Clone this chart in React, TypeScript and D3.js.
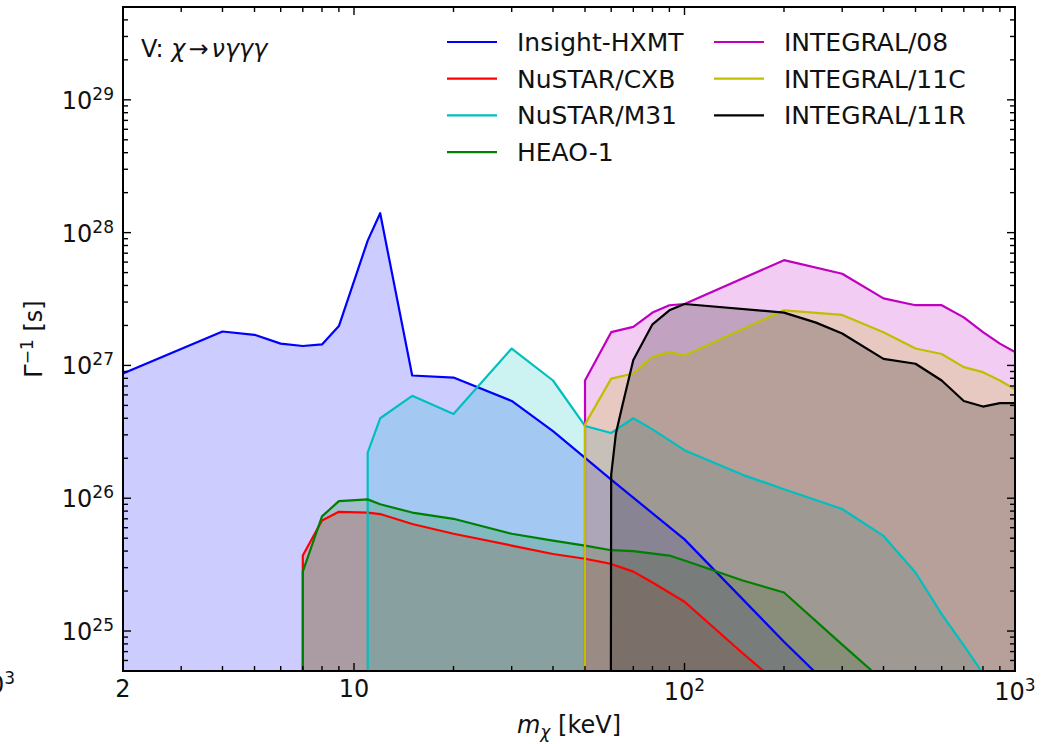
import React, { useEffect, useRef } from "react";
import * as d3 from "d3";

// masses in keV, inverse decay rates in s
const hxmtMass = [2, 4, 5, 6, 7, 8, 9, 11, 12, 15, 20, 30, 40, 60, 100, 200, 300];
const hxmtLife = [8.7e26, 1.8e27, 1.7e27, 1.46e27, 1.4e27, 1.44e27, 1.98e27, 8.7e27, 1.4e28, 8.4e26, 8.1e26, 5.4e26, 3.2e26, 1.38e26, 4.9e25, 8.3e24, 3.1e24];

const cxbMass = [7, 7, 8, 9, 11, 12, 15, 20, 30, 40, 50, 60, 70, 80, 100, 150, 200];
const cxbLife = [1e20, 3.7e25, 6.8e25, 7.9e25, 7.8e25, 7.6e25, 6.4e25, 5.4e25, 4.4e25, 3.8e25, 3.5e25, 3.2e25, 2.8e25, 2.32e25, 1.66e25, 6.8e24, 3.7e24];

const m31Mass = [11, 11, 12, 15, 20, 30, 40, 50, 60, 70, 80, 100, 150, 200, 300, 400, 500, 600, 700, 800];
const m31Life = [1e20, 2.2e26, 4e26, 5.9e26, 4.3e26, 1.34e27, 7.7e26, 3.5e26, 3.1e26, 4e26, 3.3e26, 2.3e26, 1.5e26, 1.17e26, 8.3e25, 5.2e25, 2.76e25, 1.34e25, 7.8e24, 4.8e24];

const heaoMass = [7, 7, 8, 9, 11, 12, 15, 20, 30, 40, 50, 60, 70, 90, 100, 150, 200, 300, 400];
const heaoLife = [1e20, 2.8e25, 7.3e25, 9.5e25, 9.8e25, 9e25, 7.8e25, 7e25, 5.4e25, 4.8e25, 4.4e25, 4.06e25, 4e25, 3.7e25, 3.4e25, 2.4e25, 1.95e25, 7.9e24, 4.2e24];

const i08Mass = [50, 50, 60, 70, 80, 90, 100, 200, 300, 400, 500, 600, 700, 800, 900, 1000];
const i08Life = [1e20, 7.7e26, 1.78e27, 1.95e27, 2.5e27, 2.84e27, 2.9e27, 6.2e27, 4.9e27, 3.2e27, 2.84e27, 2.84e27, 2.3e27, 1.78e27, 1.46e27, 1.26e27];

const i11cMass = [50, 50, 60, 70, 80, 90, 100, 200, 300, 400, 500, 600, 700, 800, 900, 1000];
const i11cLife = [1e20, 3.6e26, 7.95e26, 8.7e26, 1.16e27, 1.26e27, 1.19e27, 2.6e27, 2.4e27, 1.78e27, 1.34e27, 1.22e27, 9.7e26, 8.9e26, 7.7e26, 6.6e26];

const i11rMass = [59.5, 60, 62, 65, 70, 80, 90, 100, 200, 250, 300, 400, 500, 600, 700, 800, 900, 1000];
const i11rLife = [1e20, 1.5e26, 3.07e26, 5.1e26, 1.1e27, 2.04e27, 2.6e27, 2.9e27, 2.5e27, 2.1e27, 1.74e27, 1.12e27, 1.03e27, 7.7e26, 5.4e26, 4.9e26, 5.2e26, 5.2e26];

const labels = ["Insight-HXMT", "NuSTAR/CXB", "NuSTAR/M31", "HEAO-1", "INTEGRAL/08", "INTEGRAL/11C", "INTEGRAL/11R"];
const colors = ["#0000ff", "#ff0000", "#00bfbf", "#008000", "#bf00bf", "#bfbf00", "#000000"];
const masses = [hxmtMass, cxbMass, m31Mass, heaoMass, i08Mass, i11cMass, i11rMass];
const lives = [hxmtLife, cxbLife, m31Life, heaoLife, i08Life, i11cLife, i11rLife];

const xMajor = [10, 100, 1000];
const xLabels = ["10", "10^2", "10^3"];
const yMajor = [1e25, 1e26, 1e27, 1e28, 1e29];

const W = 1043;
const H = 744;
const FONT = "DejaVu Sans";

export default function App() {
  const ref = useRef(null);

  useEffect(() => {
    const svg = d3.select(ref.current);
    svg.selectAll("*").remove();

    const left = 123, right = 1015, top = 7, bottom = 671;

    const x = d3.scaleLog().domain([2, 1000]).range([left, right]);
    const y = d3.scaleLog().domain([5e24, 5e29]).range([bottom, top]);

    svg.append("rect").attr("width", W).attr("height", H).attr("fill", "white");

    svg
      .append("defs")
      .append("clipPath")
      .attr("id", "plot")
      .append("rect")
      .attr("x", left)
      .attr("y", top)
      .attr("width", right - left)
      .attr("height", bottom - top);

    const plot = svg.append("g").attr("clip-path", "url(#plot)");

    const series = labels.map((label, i) => ({
      label,
      color: colors[i],
      pts: masses[i].map((m, j) => [m, lives[i][j]]),
    }));

    const area = d3
      .area()
      .x(d => x(d[0]))
      .y0(bottom + 50)
      .y1(d => y(d[1]));
    const line = d3
      .line()
      .x(d => x(d[0]))
      .y(d => y(d[1]));

    // fills first, lines on top
    series.forEach(s => {
      plot.append("path").attr("d", area(s.pts)).attr("fill", s.color).attr("fill-opacity", 0.2);
    });
    series.forEach(s => {
      plot
        .append("path")
        .attr("d", line(s.pts))
        .attr("fill", "none")
        .attr("stroke", s.color)
        .attr("stroke-width", 2.2)
        .attr("stroke-linejoin", "round");
    });

    // ticks, pointing inward on all four sides
    const ax = svg.append("g").attr("stroke", "black").attr("stroke-width", 1.4);
    const xMinor = [];
    [1, 10, 100].forEach(d => {
      for (let k = 2; k <= 9; k++) if (d * k > 2 && d * k < 1000) xMinor.push(d * k);
    });
    const yMinor = [];
    [1e24, 1e25, 1e26, 1e27, 1e28, 1e29].forEach(d => {
      for (let k = 2; k <= 9; k++) if (d * k > 5e24 && d * k <= 5e29) yMinor.push(d * k);
    });
    const tickX = (v, len) => {
      ax.append("line").attr("x1", x(v)).attr("x2", x(v)).attr("y1", bottom).attr("y2", bottom - len);
      ax.append("line").attr("x1", x(v)).attr("x2", x(v)).attr("y1", top).attr("y2", top + len);
    };
    const tickY = (v, len) => {
      ax.append("line").attr("y1", y(v)).attr("y2", y(v)).attr("x1", left).attr("x2", left + len);
      ax.append("line").attr("y1", y(v)).attr("y2", y(v)).attr("x1", right).attr("x2", right - len);
    };
    xMajor.forEach(v => tickX(v, 8));
    xMinor.forEach(v => tickX(v, 5));
    yMajor.forEach(v => tickY(v, 8));
    yMinor.forEach(v => tickY(v, 5));

    svg
      .append("rect")
      .attr("x", left)
      .attr("y", top)
      .attr("width", right - left)
      .attr("height", bottom - top)
      .attr("fill", "none")
      .attr("stroke", "black")
      .attr("stroke-width", 2);

    const txt = svg.append("g").attr("font-family", FONT).attr("fill", "#111").attr("font-size", 24);

    // x tick labels
    txt.append("text").attr("x", x(2)).attr("y", 697).attr("text-anchor", "middle").text("2");
    xMajor.forEach((v, i) => {
      const [base, exp] = xLabels[i].split("^");
      const t = txt
        .append("text")
        .attr("x", x(v))
        .attr("y", exp ? 700 : 697)
        .attr("text-anchor", "middle");
      t.append("tspan").text(base);
      if (exp) t.append("tspan").attr("dy", -9).attr("font-size", 17).text(exp);
    });

    // y tick labels
    yMajor.forEach(v => {
      const t = txt.append("text").attr("x", 114).attr("y", y(v) + 9).attr("text-anchor", "end");
      t.append("tspan").text("10");
      t.append("tspan").attr("dy", -9).attr("font-size", 17).text(String(Math.round(Math.log10(v))));
    });

    // stray label of the neighbouring panel
    const stray = txt.append("text").attr("x", 15).attr("y", 693).attr("text-anchor", "end");
    stray.append("tspan").text("10");
    stray.append("tspan").attr("dy", -9).attr("font-size", 17).text("3");

    // axis labels
    const xl = txt.append("text").attr("x", (left + right) / 2).attr("y", 733).attr("text-anchor", "middle");
    xl.append("tspan").attr("font-style", "italic").text("m");
    xl.append("tspan").attr("font-style", "italic").attr("font-size", 17).attr("dy", 5).text("χ");
    xl.append("tspan").attr("dy", -5).text(" [keV]");

    const yl = txt
      .append("text")
      .attr("transform", `translate(42,${(top + bottom) / 2}) rotate(-90)`)
      .attr("text-anchor", "middle");
    yl.append("tspan").text("Γ");
    yl.append("tspan").attr("font-size", 17).attr("dy", -9).text("−1");
    yl.append("tspan").attr("dy", 9).text(" [s]");

    // annotation
    const note = txt.append("text").attr("x", 141).attr("y", 57);
    note.append("tspan").text("V: ");
    note.append("tspan").attr("font-style", "italic").text("χ");
    note.append("tspan").attr("dx", 3).text("→");
    note.append("tspan").attr("dx", 3).attr("font-style", "italic").text("νγγγ");

    // legend, two columns
    const leg = svg.append("g").attr("font-family", FONT).attr("font-size", 25);
    series.forEach((s, i) => {
      const col = i < 4 ? 0 : 1;
      const row = i < 4 ? i : i - 4;
      const tx = col === 0 ? 517 : 784;
      const ly = 42 + row * 36.7;
      leg
        .append("line")
        .attr("x1", tx - 70)
        .attr("x2", tx - 20)
        .attr("y1", ly)
        .attr("y2", ly)
        .attr("stroke", s.color)
        .attr("stroke-width", 2.2);
      leg
        .append("text")
        .attr("x", tx)
        .attr("y", ly + 9)
        .attr("fill", "#111")
        .text(s.label);
    });
  }, []);

  return (
    <svg
      ref={ref}
      width={W}
      height={H}
      style={{ position: "absolute", left: 0, top: 0 }}
    />
  );
}
